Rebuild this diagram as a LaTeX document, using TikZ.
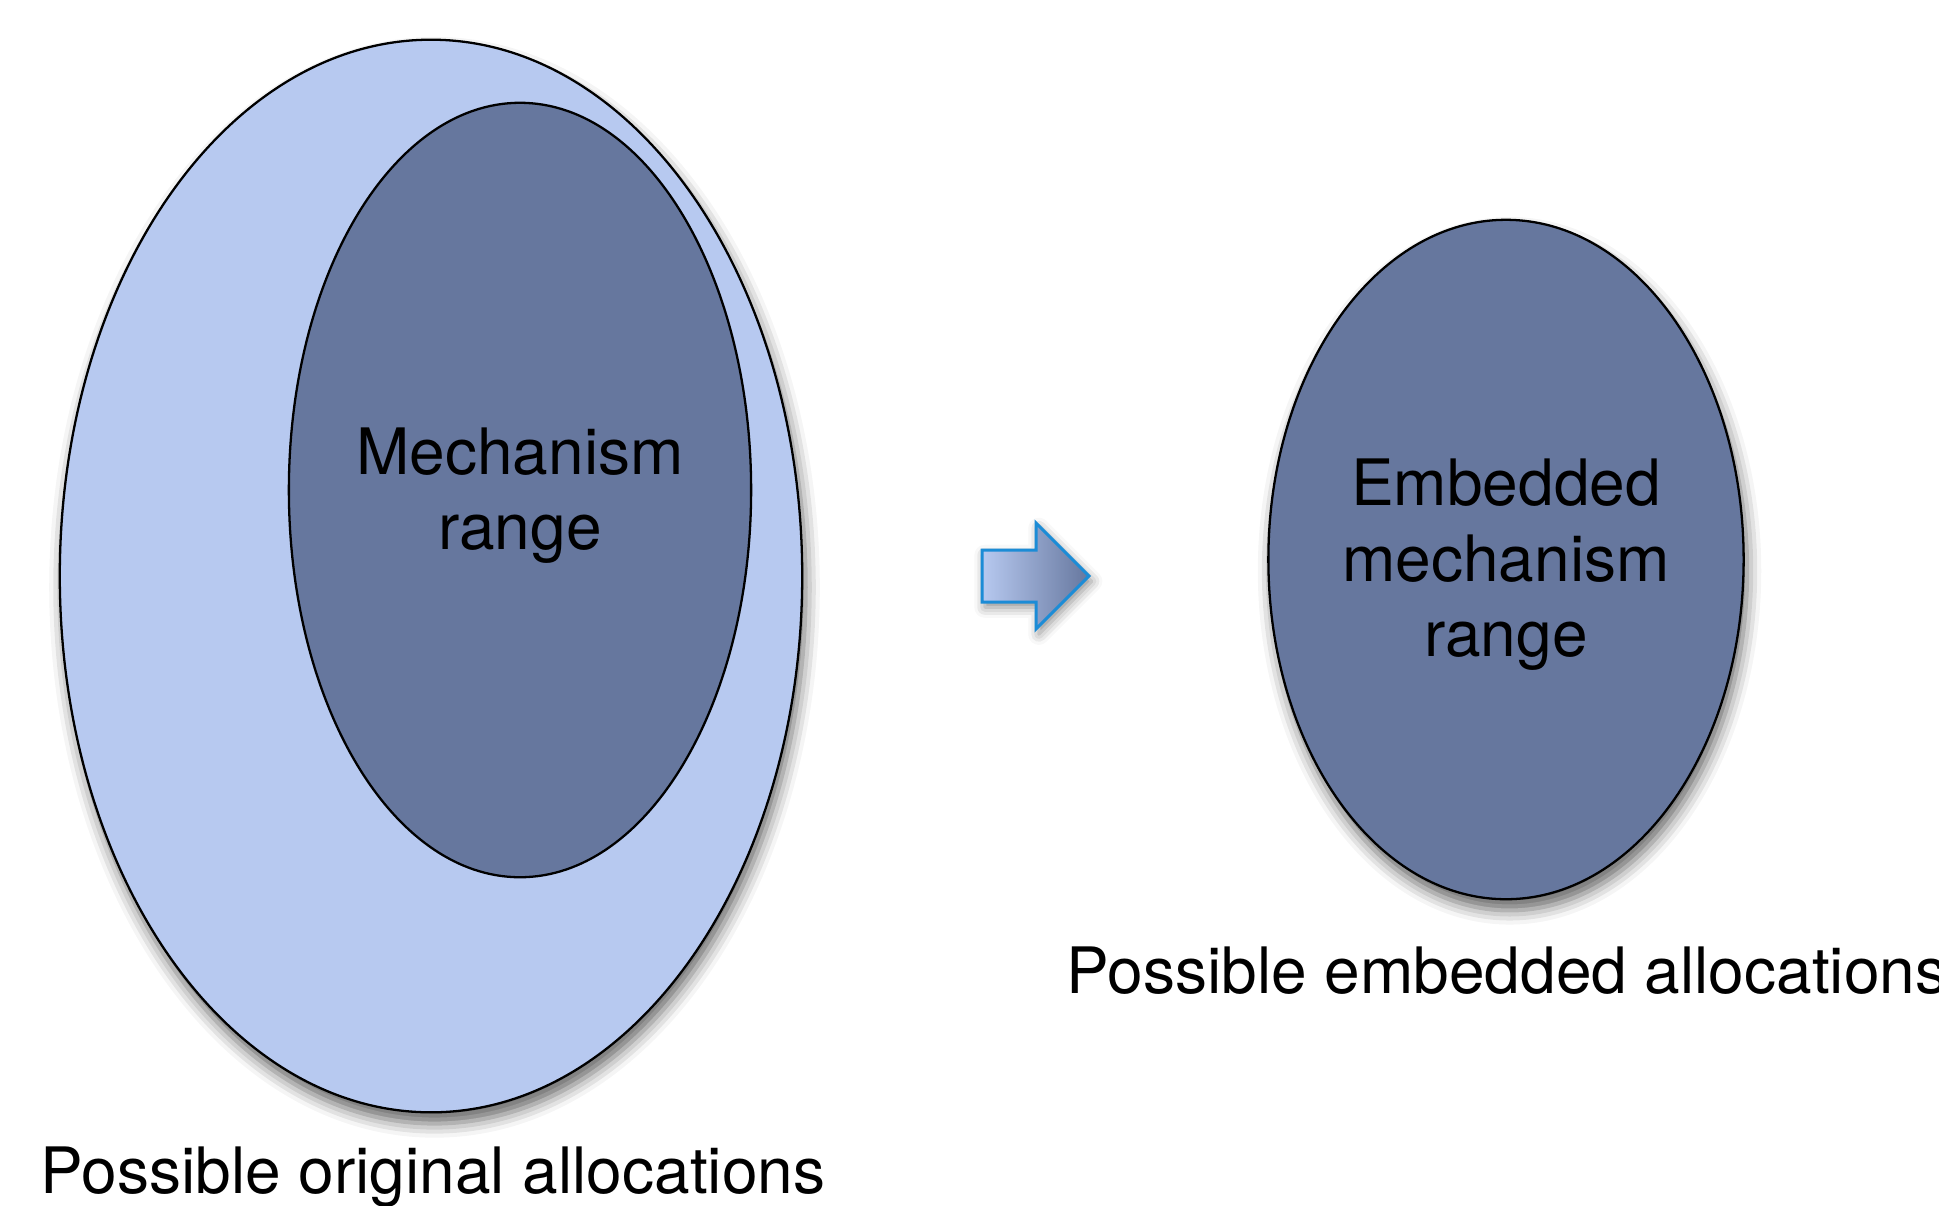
\documentclass[tikz,border=0pt]{standalone}
\usepackage{fontspec}
\setmainfont{TeX Gyre Heros}
\usetikzlibrary{shapes.geometric,shadows.blur}
\definecolor{lightfill}{RGB}{183,201,240}
\definecolor{darkfill}{RGB}{102,119,158}
\definecolor{arrowline}{RGB}{28,140,214}
\tikzset{
  softshadow/.style={blur shadow={shadow xshift=1pt,shadow yshift=-3.2pt,shadow blur radius=4pt,shadow opacity=60}},
  region/.style={ellipse,draw=black,line width=0.65pt,inner sep=0pt},
  bigtext/.style={font=\fontsize{18.2}{21.4}\selectfont,align=center,text=black,inner sep=0pt},
}
\begin{document}
\begin{tikzpicture}[x=0.01cm,y=-0.01cm]
\useasboundingbox (0,0) rectangle (1939,1205);
% left: possible original allocations
\node[region,softshadow,fill=lightfill,minimum width=7.42cm,minimum height=10.72cm] (orig) at (431,576) {};
\node[region,fill=darkfill,minimum width=4.62cm,minimum height=7.74cm] (mech) at (520,490) {};
\node[bigtext,yshift=-1.5pt] (mechtxt) at (mech.center) {Mechanism\\range};
\node[bigtext,anchor=base west] (origlbl) at (40,1193) {Possible original allocations};
% arrow
\path[left color=lightfill,right color=darkfill,draw=arrowline,line width=0.85pt,line join=miter,
  blur shadow={shadow xshift=0.8pt,shadow yshift=-1.5pt,shadow blur radius=3pt,shadow opacity=45}]
  (982,550) -- (1036,550) -- (1036,523) -- (1089,576) -- (1036,629) -- (1036,602) -- (982,602) -- cycle;
% right: embedded
\node[region,softshadow,fill=darkfill,minimum width=4.75cm,minimum height=6.79cm] (emb) at (1506,559.5) {};
\node[bigtext,yshift=-1.5pt] (embtxt) at (emb.center) {Embedded\\mechanism\\range};
\node[bigtext,anchor=base west] (emblbl) at (1066,993) {Possible embedded allocations};
\end{tikzpicture}
\end{document}
